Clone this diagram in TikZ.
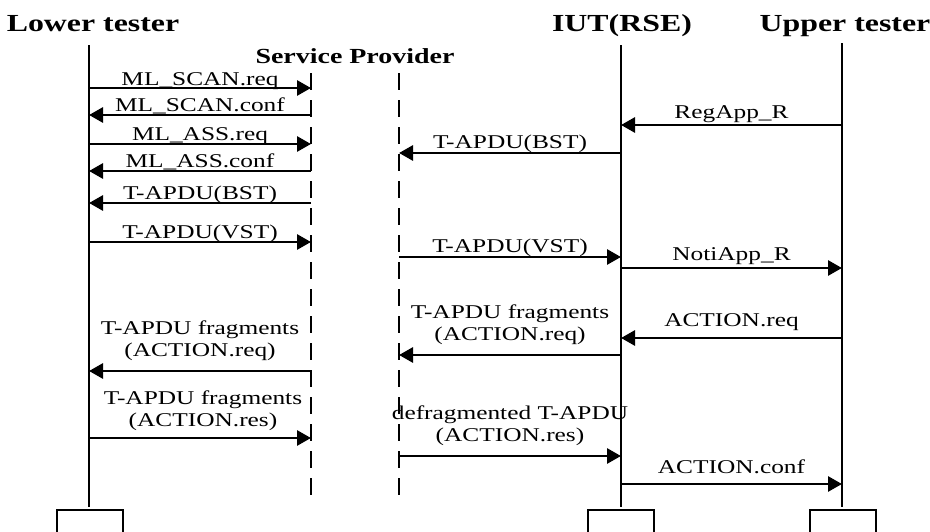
\documentclass[tikz,border=0pt]{standalone}
\usepackage{fontspec}
\setmainfont{Liberation Serif}[FakeStretch=1.3]
\usetikzlibrary{arrows.meta}

\begin{document}
\begin{tikzpicture}[x=1pt,y=-1pt,
  life/.style={line width=2pt},
  splife/.style={line width=2pt, dash pattern=on 17pt off 10pt},
  msg/.style={line width=2.8pt, -{Triangle[length=14pt,width=15pt]}},
  lbl/.style={font=\fontsize{19.5}{21.5}\selectfont, inner sep=0pt, anchor=base},
  lbltwo/.style={font=\fontsize{19.5}{21.5}\selectfont, inner sep=0pt, anchor=south, align=center},
  title/.style={font=\fontsize{24.5}{26}\selectfont\bfseries, inner sep=0pt, anchor=base},
  subtitle/.style={font=\fontsize{21.5}{23}\selectfont\bfseries, inner sep=0pt, anchor=base},
  endbox/.style={draw, line width=2pt, minimum width=66pt, minimum height=40pt, anchor=north, inner sep=0pt}
]
\clip (0,0) rectangle (930,531);

% participant headings
\node[title]    (tLT)  at (93,31)  {Lower tester};
\node[subtitle] (tSP)  at (355,63) {Service Provider};
\node[title]    (tIUT) at (622,31) {IUT(RSE)};
\node[title]    (tUT)  at (845,31) {Upper tester};

% lifeline end points
\coordinate (LT)   at (89,45);   \coordinate (LTend)  at (89,507);
\coordinate (SPL)  at (311,73);  \coordinate (SPLend) at (311,495);
\coordinate (SPR)  at (399,73);  \coordinate (SPRend) at (399,495);
\coordinate (IUT)  at (621,45);  \coordinate (IUTend) at (621,507);
\coordinate (UT)   at (842,43);  \coordinate (UTend)  at (842,507);

% lifelines
\draw[life]   (LT)  -- (LTend);
\draw[life]   (IUT) -- (IUTend);
\draw[life]   (UT)  -- (UTend);
\draw[splife] (SPL) -- (SPLend);
\draw[splife] (SPR) -- (SPRend);

% boxes at the foot of the lifelines
\node[endbox] (bLT)  at (89.5,509) {};
\node[endbox] (bIUT) at (620.5,509) {};
\node[endbox] (bUT)  at (843,509) {};

% lower tester <-> service provider
\draw[msg] (LT |- 0,88)   -- (SPL |- 0,88)  node[lbl, midway, yshift=3pt] {ML\_SCAN.req};
\draw[msg] (SPL |- 0,115) -- (LT |- 0,115)  node[lbl, midway, yshift=4pt] {ML\_SCAN.conf};
\draw[msg] (LT |- 0,144)  -- (SPL |- 0,144) node[lbl, midway, yshift=4pt] {ML\_ASS.req};
\draw[msg] (SPL |- 0,171) -- (LT |- 0,171)  node[lbl, midway, yshift=4pt] {ML\_ASS.conf};
\draw[msg] (SPL |- 0,203) -- (LT |- 0,203)  node[lbl, midway, yshift=4pt] {T-APDU(BST)};
\draw[msg] (LT |- 0,242)  -- (SPL |- 0,242) node[lbl, midway, yshift=4pt] {T-APDU(VST)};
\draw[msg] (SPL |- 0,371) -- (LT |- 0,371)  node[lbltwo, midway, yshift=9pt] {T-APDU fragments\\(ACTION.req)};
\draw[msg] (LT |- 0,438)  -- (SPL |- 0,438) node[lbltwo, midway, xshift=3pt, yshift=6pt] {T-APDU fragments\\(ACTION.res)};

% service provider <-> IUT
\draw[msg] (IUT |- 0,153) -- (SPR |- 0,153) node[lbl, midway, yshift=5pt] {T-APDU(BST)};
\draw[msg] (SPR |- 0,257) -- (IUT |- 0,257) node[lbl, midway, yshift=5pt] {T-APDU(VST)};
\draw[msg] (IUT |- 0,355) -- (SPR |- 0,355) node[lbltwo, midway, yshift=9pt] {T-APDU fragments\\(ACTION.req)};
\draw[msg] (SPR |- 0,456) -- (IUT |- 0,456) node[lbltwo, midway, yshift=9pt] {defragmented T-APDU\\(ACTION.res)};

% IUT <-> upper tester
\draw[msg] (UT |- 0,125)  -- (IUT |- 0,125) node[lbl, midway, yshift=7pt] {RegApp\_R};
\draw[msg] (IUT |- 0,268) -- (UT |- 0,268)  node[lbl, midway, yshift=8pt] {NotiApp\_R};
\draw[msg] (UT |- 0,338)  -- (IUT |- 0,338) node[lbl, midway, yshift=12pt] {ACTION.req};
\draw[msg] (IUT |- 0,484) -- (UT |- 0,484)  node[lbl, midway, yshift=11pt] {ACTION.conf};
\end{tikzpicture}
\end{document}
